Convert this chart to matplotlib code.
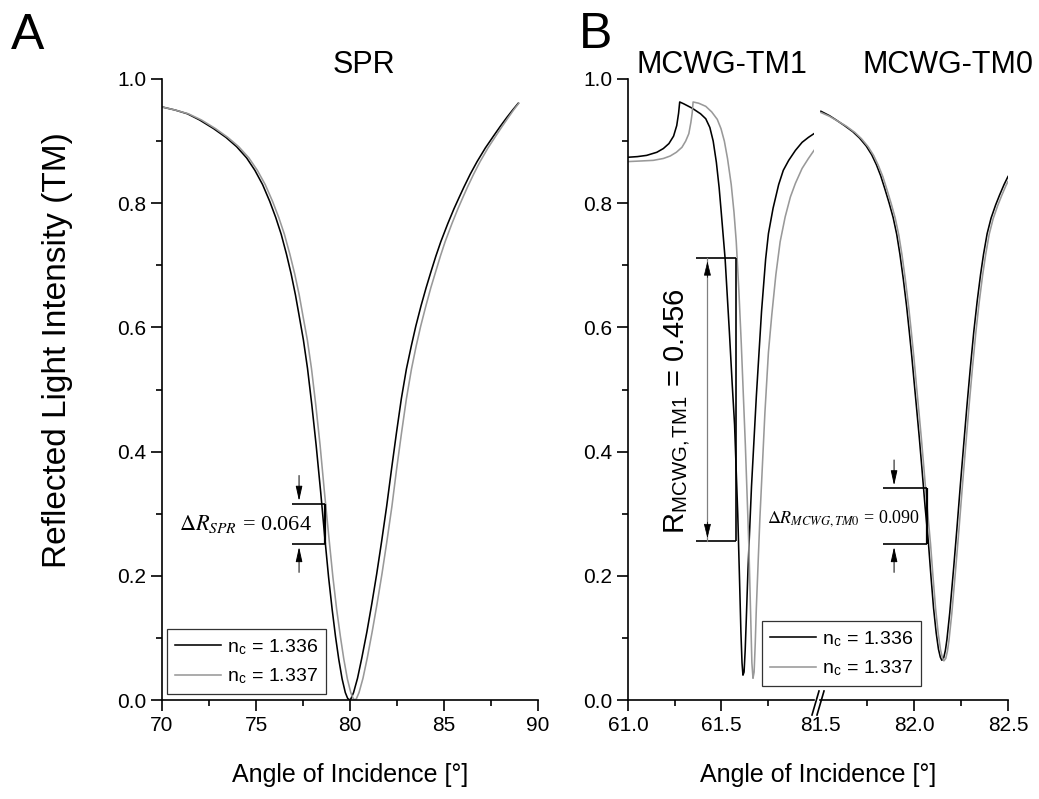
import matplotlib
matplotlib.use('Agg')
import matplotlib.pyplot as plt
from matplotlib.lines import Line2D

plt.rcParams['font.family'] = ['Liberation Sans', 'DejaVu Sans']
plt.rcParams['mathtext.fontset'] = 'stix'

# ---- data ----
# panel A: SPR
spr_x_336 = [70.0, 70.7, 71.35, 72.0, 72.75, 73.4, 73.97, 74.5, 74.94, 75.35, 75.73, 76.05, 76.34,
             76.62, 76.87, 77.1, 77.3, 77.52, 77.74, 77.97, 78.2, 78.44, 78.67, 78.86, 79.05, 79.23,
             79.4, 79.58, 79.75, 79.87, 79.96, 80.05, 80.19, 80.4, 80.63, 80.9, 81.16, 81.42, 81.68,
             81.95, 82.21, 82.47, 82.73, 83.0, 83.26, 83.5, 83.78, 84.05, 84.31, 84.57, 84.83, 85.2,
             85.53, 85.8, 86.06, 86.4, 86.76, 87.2, 87.63, 88.0, 88.34, 88.65, 88.95]
spr_y_336 = [0.955, 0.950, 0.944, 0.934, 0.920, 0.906, 0.891, 0.873, 0.853, 0.830, 0.803, 0.777, 0.750,
             0.718, 0.686, 0.652, 0.618, 0.580, 0.534, 0.475, 0.410, 0.335, 0.258, 0.198, 0.146, 0.102,
             0.066, 0.034, 0.012, 0.003, 0.000, 0.002, 0.012, 0.035, 0.068, 0.110, 0.155, 0.203, 0.255,
             0.312, 0.372, 0.430, 0.485, 0.533, 0.570, 0.602, 0.635, 0.664, 0.690, 0.715, 0.738, 0.767,
             0.791, 0.809, 0.826, 0.847, 0.867, 0.889, 0.908, 0.924, 0.938, 0.950, 0.961]
spr_x_337 = [70.0, 70.7, 71.4, 72.1, 72.85, 73.5, 74.08, 74.62, 75.07, 75.49, 75.88, 76.21, 76.51,
             76.8, 77.06, 77.3, 77.5, 77.73, 77.95, 78.18, 78.41, 78.64, 78.89, 79.09, 79.29, 79.49,
             79.67, 79.86, 80.04, 80.16, 80.25, 80.34, 80.48, 80.69, 80.92, 81.18, 81.44, 81.7, 81.96,
             82.23, 82.48, 82.74, 83.0, 83.27, 83.52, 83.76, 84.04, 84.3, 84.56, 84.81, 85.06, 85.42,
             85.74, 86.0, 86.25, 86.58, 86.92, 87.34, 87.75, 88.1, 88.42, 88.7, 88.98]
spr_y_337 = spr_y_336[:]

# panel B, TM1 mode (61-62 deg)
tm1_x_336 = [61.0, 61.05, 61.1, 61.155, 61.19, 61.22, 61.245, 61.262, 61.272, 61.278, 61.30, 61.345,
             61.39, 61.418, 61.44, 61.458, 61.475, 61.49, 61.5, 61.522, 61.545, 61.56, 61.573, 61.59,
             61.6, 61.607, 61.613, 61.618, 61.624, 61.63, 61.636, 61.645, 61.664, 61.69, 61.718, 61.74,
             61.755, 61.78, 61.81, 61.835, 61.864, 61.9, 61.936, 61.97, 62.0]
tm1_y_336 = [0.874, 0.875, 0.877, 0.882, 0.888, 0.896, 0.908, 0.925, 0.945, 0.963, 0.960, 0.953,
             0.944, 0.936, 0.922, 0.900, 0.866, 0.825, 0.790, 0.711, 0.593, 0.510, 0.443, 0.300,
             0.190, 0.110, 0.060, 0.040, 0.045, 0.080, 0.130, 0.210, 0.344, 0.489, 0.626, 0.710,
             0.751, 0.792, 0.830, 0.853, 0.869, 0.885, 0.898, 0.906, 0.912]
tm1_x_337 = [61.0, 61.07, 61.136, 61.19, 61.227, 61.26, 61.29, 61.31, 61.327, 61.338, 61.345, 61.35,
             61.38, 61.418, 61.45, 61.48, 61.5, 61.518, 61.535, 61.555, 61.57, 61.582, 61.596, 61.609,
             61.631, 61.65, 61.66, 61.666, 61.672, 61.678, 61.684, 61.69, 61.709, 61.736, 61.755,
             61.773, 61.795, 61.818, 61.845, 61.873, 61.9, 61.936, 61.97, 62.0]
tm1_y_337 = [0.867, 0.868, 0.869, 0.872, 0.876, 0.882, 0.890, 0.900, 0.912, 0.930, 0.945, 0.963,
             0.961, 0.956, 0.947, 0.935, 0.920, 0.900, 0.872, 0.830, 0.785, 0.738, 0.660, 0.574,
             0.410, 0.246, 0.130, 0.060, 0.035, 0.045, 0.090, 0.148, 0.292, 0.462, 0.560,
             0.620, 0.685, 0.738, 0.778, 0.810, 0.832, 0.856, 0.872, 0.885]

# panel B, TM0 mode (81.5-82.5 deg)
tm0_x_336 = [81.505, 81.55, 81.586, 81.63, 81.675, 81.71, 81.746, 81.775, 81.8, 81.823, 81.845, 81.868,
             81.889, 81.908, 81.925, 81.943, 81.961, 81.975, 81.988, 82.001, 82.014, 82.028, 82.041,
             82.05, 82.059, 82.068, 82.077, 82.09, 82.104, 82.118, 82.13, 82.14, 82.148, 82.158,
             82.167, 82.175, 82.19, 82.211, 82.228, 82.246, 82.264, 82.282, 82.3, 82.318, 82.336,
             82.354, 82.37, 82.389, 82.41, 82.434, 82.455, 82.479, 82.5]
tm0_y_336 = [0.948, 0.941, 0.934, 0.925, 0.915, 0.905, 0.892, 0.878, 0.862, 0.844, 0.823, 0.800,
             0.777, 0.750, 0.718, 0.678, 0.633, 0.593, 0.554, 0.511, 0.469, 0.423, 0.377,
             0.344, 0.311, 0.282, 0.252, 0.200, 0.148, 0.108, 0.082, 0.069, 0.064, 0.068,
             0.080, 0.097, 0.140, 0.213, 0.275, 0.344, 0.410, 0.475, 0.536, 0.593, 0.642,
             0.685, 0.718, 0.751, 0.776, 0.797, 0.813, 0.830, 0.843]
tm0_x_337 = [81.505, 81.55, 81.59, 81.64, 81.685, 81.72, 81.756, 81.785, 81.81, 81.834, 81.856, 81.879,
             81.9, 81.919, 81.936, 81.954, 81.972, 81.986, 81.999, 82.012, 82.025, 82.039, 82.052,
             82.061, 82.07, 82.079, 82.088, 82.101, 82.115, 82.129, 82.141, 82.151, 82.159, 82.169,
             82.178, 82.186, 82.201, 82.222, 82.239, 82.257, 82.275, 82.293, 82.311, 82.329, 82.347,
             82.365, 82.381, 82.4, 82.421, 82.445, 82.466, 82.49, 82.5]
tm0_y_337 = [0.946, 0.940, 0.933, 0.924, 0.914, 0.904, 0.891, 0.877, 0.861, 0.843, 0.822, 0.799,
             0.776, 0.749, 0.717, 0.677, 0.632, 0.592, 0.553, 0.510, 0.468, 0.422, 0.376,
             0.343, 0.310, 0.281, 0.251, 0.199, 0.147, 0.107, 0.081, 0.068, 0.063, 0.067,
             0.079, 0.096, 0.139, 0.212, 0.274, 0.343, 0.409, 0.474, 0.535, 0.592, 0.641,
             0.684, 0.717, 0.750, 0.775, 0.796, 0.812, 0.829, 0.835]

labels = [r'n$_\mathregular{c}$ = 1.336', r'n$_\mathregular{c}$ = 1.337']
colors = ['black', '#999999']

# annotation levels
spr_levels = (0.251, 0.316)
tm1_levels = (0.256, 0.711)
tm0_levels = (0.251, 0.341)

W, H = 1039, 799
LW = 1.15


def box(l, t, r, b):
    return [l / W, 1 - b / H, (r - l) / W, (b - t) / H]


def style(ax, left=True):
    ax.spines['top'].set_visible(False)
    ax.spines['right'].set_visible(False)
    for s in ax.spines.values():
        s.set_linewidth(1.2)
    ax.tick_params(which='major', direction='out', length=8, width=1.2, labelsize=15)
    ax.tick_params(which='minor', direction='out', length=4.5, width=1.2)
    ax.set_ylim(0, 1)
    if left:
        ax.set_yticks([0, 0.2, 0.4, 0.6, 0.8, 1.0])
        ax.set_yticks([0.1, 0.3, 0.5, 0.7, 0.9], minor=True)
        ax.set_yticklabels(['%.1f' % v for v in [0, 0.2, 0.4, 0.6, 0.8, 1.0]])
    else:
        ax.spines['left'].set_visible(False)
        ax.set_yticks([])


def dr_arrows(ax, xa, lo, hi, tail):
    ax.annotate('', xy=(xa, hi), xytext=(xa, hi + tail),
                arrowprops=dict(arrowstyle='-|>,head_length=0.9,head_width=0.2', color='black', lw=0.7))
    ax.annotate('', xy=(xa, lo), xytext=(xa, lo - tail),
                arrowprops=dict(arrowstyle='-|>,head_length=0.9,head_width=0.2', color='black', lw=0.7))


leg_kw = dict(fontsize=14, frameon=True, fancybox=False, edgecolor='black', borderaxespad=0,
              handlelength=2.4, handletextpad=0.3, borderpad=0.4, labelspacing=0.5)

fig = plt.figure(figsize=(10.39, 7.99), dpi=100)

# ---------- panel A ----------
axA = fig.add_axes(box(162, 79, 538, 700))
style(axA)
axA.plot(spr_x_336, spr_y_336, color=colors[0], lw=LW, label=labels[0])
axA.plot(spr_x_337, spr_y_337, color=colors[1], lw=LW, label=labels[1])
axA.set_xlim(70, 90)
axA.set_xticks([70, 75, 80, 85, 90])
axA.set_xticks([72.5, 77.5, 82.5, 87.5], minor=True)

axA.hlines(spr_levels, 76.9, 78.67, color='black', lw=1.2)
axA.vlines(78.67, spr_levels[0], spr_levels[1], color='black', lw=1.6)
dr_arrows(axA, 77.29, spr_levels[0], spr_levels[1], 0.05)
axA.text(70.9, sum(spr_levels) / 2, r'$\Delta R_{SPR}$ = 0.064', fontsize=16, va='center', ha='left',
         family='Liberation Serif')

legA = axA.legend(loc='lower left', bbox_to_anchor=(167 / W, 1 - 694 / H), bbox_transform=fig.transFigure,
                  **leg_kw)
legA.get_frame().set_linewidth(0.9)

# ---------- panel B ----------
axB1 = fig.add_axes(box(628, 79, 814, 700))
axB2 = fig.add_axes(box(820, 79, 1008, 700))
axB2.patch.set_alpha(0)
style(axB1)
style(axB2, left=False)

h1, = axB1.plot(tm1_x_336, tm1_y_336, color=colors[0], lw=LW)
h2, = axB1.plot(tm1_x_337, tm1_y_337, color=colors[1], lw=LW)
axB1.set_xlim(61.0, 62.0)
axB1.set_xticks([61.0, 61.5])
axB1.set_xticks([61.25, 61.75], minor=True)
axB1.set_xticklabels(['61.0', '61.5'])

axB2.plot(tm0_x_336, tm0_y_336, color=colors[0], lw=LW)
axB2.plot(tm0_x_337, tm0_y_337, color=colors[1], lw=LW)
axB2.set_xlim(81.5, 82.5)
axB2.set_xticks([81.5, 82.0, 82.5])
axB2.set_xticks([81.75, 82.25], minor=True)
axB2.set_xticklabels(['81.5', '82.0', '82.5'])
axB2.xaxis.get_major_ticks()[0].tick1line.set_visible(False)

# break marks
for dx in (0.0, 5.0):
    fig.add_artist(Line2D([(812 + dx) / W, (819 + dx) / W], [1 - 715 / H, 1 - 691 / H],
                          color='black', lw=1.2))

# TM1 depth annotation
axB1.hlines(tm1_levels, 61.364, 61.582, color='black', lw=1.2)
axB1.vlines(61.582, tm1_levels[0], tm1_levels[1], color='black', lw=1.2)
axB1.plot([61.427, 61.427], tm1_levels, color='#808080', lw=0.9)
for tip, d in ((tm1_levels[1], -0.035), (tm1_levels[0], 0.035)):
    axB1.annotate('', xy=(61.427, tip), xytext=(61.427, tip + d),
                  arrowprops=dict(arrowstyle='-|>,head_length=0.9,head_width=0.22', color='black', lw=0.5))
axB1.text(61.27, 0.465, r'R$_\mathregular{MCWG,TM1}$ = 0.456', rotation=90, fontsize=21,
          ha='center', va='center')

# TM0 delta annotation
axB2.hlines(tm0_levels, 81.835, 82.069, color='black', lw=1.2)
axB2.vlines(82.069, tm0_levels[0], tm0_levels[1], color='black', lw=1.6)
dr_arrows(axB2, 81.894, tm0_levels[0], tm0_levels[1], 0.05)
axB2.text(81.218, sum(tm0_levels) / 2 - 0.003, r'$\Delta R_{MCWG,TM0}$ = 0.090', fontsize=13,
          va='center', ha='left', clip_on=False, family='Liberation Serif')

legB = fig.legend([h1, h2], labels, loc='lower left', bbox_to_anchor=(762 / W, 1 - 686 / H), **leg_kw)
legB.get_frame().set_linewidth(0.9)

# ---------- texts ----------
fig.text(364 / W, 1 - 65 / H, 'SPR', fontsize=22, ha='center', va='center')
fig.text(722 / W, 1 - 65 / H, 'MCWG-TM1', fontsize=22, ha='center', va='center')
fig.text(948 / W, 1 - 65 / H, 'MCWG-TM0', fontsize=22, ha='center', va='center')
fig.text(28 / W, 1 - 36 / H, 'A', fontsize=36, ha='center', va='center')
fig.text(596 / W, 1 - 35 / H, 'B', fontsize=36, ha='center', va='center')
fig.text(58 / W, 1 - 350 / H, 'Reflected Light Intensity (TM)', fontsize=24, rotation=90,
         ha='center', va='center')
fig.text(350 / W, 1 - 775 / H, 'Angle of Incidence [°]', fontsize=18, ha='center', va='center')
fig.text(818 / W, 1 - 775 / H, 'Angle of Incidence [°]', fontsize=18, ha='center', va='center')

fig.savefig('out.png', dpi=100)
